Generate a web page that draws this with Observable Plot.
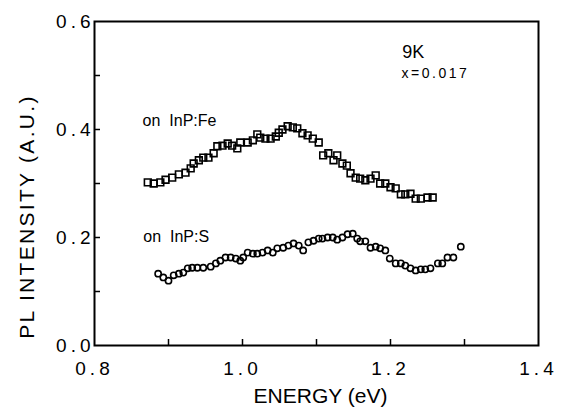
<!DOCTYPE html>
<html>
<head>
<meta charset="utf-8">
<script src="https://cdn.jsdelivr.net/npm/d3@7"></script>
<script src="https://cdn.jsdelivr.net/npm/@observablehq/plot@0.6"></script>
<style>
  body { margin: 0; background: #fff; overflow: hidden; }
  #chart g[aria-label="x-axis tick label"] text,
  #chart g[aria-label="y-axis tick label"] text { letter-spacing: 4px; }
  #chart .ytitle text { letter-spacing: 2.3px; }
  #chart .xnote text { letter-spacing: 2.5px; }
</style>
</head>
<body>
<div id="chart"></div>
<script>
// InP:Fe substrate (squares)
const energyFe = [0.872,0.880,0.889,0.896,0.905,0.914,0.923,0.930,0.934,0.941,0.947,0.954,0.961,0.966,0.973,0.980,0.986,0.993,0.997,1.007,1.014,1.020,1.024,1.031,1.038,1.045,1.049,1.054,1.061,1.068,1.074,1.081,1.088,1.095,1.103,1.109,1.116,1.123,1.128,1.135,1.141,1.146,1.153,1.159,1.166,1.173,1.180,1.186,1.193,1.200,1.207,1.214,1.220,1.227,1.234,1.241,1.250,1.257];
const intensityFe = [0.302,0.300,0.302,0.307,0.311,0.317,0.320,0.328,0.337,0.343,0.348,0.348,0.356,0.369,0.370,0.374,0.370,0.365,0.376,0.376,0.380,0.391,0.385,0.383,0.383,0.387,0.394,0.400,0.406,0.404,0.402,0.393,0.389,0.383,0.376,0.352,0.356,0.343,0.352,0.337,0.333,0.319,0.311,0.309,0.306,0.309,0.315,0.300,0.300,0.293,0.291,0.280,0.280,0.281,0.272,0.272,0.274,0.274];
// InP:S substrate (circles)
const energyS = [0.886,0.893,0.900,0.907,0.914,0.920,0.926,0.932,0.939,0.947,0.957,0.964,0.970,0.977,0.984,0.991,0.997,1.001,1.007,1.014,1.020,1.027,1.034,1.041,1.047,1.055,1.062,1.069,1.076,1.082,1.089,1.096,1.103,1.108,1.115,1.122,1.128,1.135,1.142,1.149,1.155,1.159,1.166,1.173,1.180,1.186,1.193,1.199,1.207,1.214,1.220,1.227,1.234,1.241,1.247,1.254,1.264,1.270,1.277,1.285,1.295];
const intensityS = [0.133,0.126,0.120,0.130,0.133,0.135,0.143,0.144,0.144,0.144,0.146,0.152,0.157,0.163,0.163,0.161,0.157,0.163,0.172,0.170,0.170,0.172,0.176,0.172,0.180,0.181,0.185,0.189,0.185,0.176,0.191,0.194,0.198,0.198,0.200,0.200,0.196,0.200,0.206,0.207,0.198,0.193,0.193,0.181,0.183,0.180,0.176,0.161,0.152,0.152,0.148,0.143,0.139,0.141,0.141,0.143,0.152,0.152,0.163,0.163,0.183];

const xTicks = [0.9, 1.0, 1.1, 1.2, 1.3];
const xTickLabels = [0.8, 1.0, 1.2, 1.4];
const yTicks = [0.1, 0.2, 0.3, 0.4, 0.5];
const yTickLabels = [0.0, 0.2, 0.4, 0.6];

const xTitle = "ENERGY (eV)";
const yTitle = "PL INTENSITY (A.U.)";

// annotation texts and their anchor positions (data units)
const seriesLabels = ["on  InP:Fe", "on  InP:S"];
const seriesLabelX = [0.865, 0.866];
const seriesLabelY = [0.407, 0.191];
const condLabels = ["9K"];
const condLabelX = [1.216];
const condLabelY = [0.533];
const compLabels = ["x=0.017"];
const compLabelX = [1.215];
const compLabelY = [0.496];

const fe = energyFe.map((e, i) => ({e, v: intensityFe[i]}));
const s = energyS.map((e, i) => ({e, v: intensityS[i]}));
const sl = seriesLabels.map((t, i) => ({t, x: seriesLabelX[i], y: seriesLabelY[i]}));
const cl = condLabels.map((t, i) => ({t, x: condLabelX[i], y: condLabelY[i]}));
const ml = compLabels.map((t, i) => ({t, x: compLabelX[i], y: compLabelY[i]}));

const font = "'Liberation Sans', Arial, Helvetica, sans-serif";

const chart = Plot.plot({
  width: 561,
  height: 410,
  marginLeft: 94,
  marginRight: 23,
  marginTop: 21,
  marginBottom: 65,
  style: {fontFamily: font, color: "black", background: "white"},
  x: {domain: [0.8, 1.4]},
  y: {domain: [0, 0.6]},
  marks: [
    Plot.axisX(xTicks, {tickSize: -6, tickFormat: () => "", strokeWidth: 1.5, label: null}),
    Plot.axisY(yTicks, {tickSize: -6, tickFormat: () => "", strokeWidth: 1.5, label: null}),
    Plot.axisX(xTickLabels, {tickSize: 0, tickPadding: 16, tickFormat: d3.format(".1f"), fontSize: 19, label: null}),
    Plot.axisY(yTickLabels, {tickSize: 0, tickPadding: 0, tickFormat: d3.format(".1f"), fontSize: 19, label: null}),
    Plot.frame({stroke: "black", strokeWidth: 2}),
    Plot.dot(fe, {x: "e", y: "v", symbol: "square", r: 3.8, stroke: "black", strokeWidth: 1.6, fill: "none"}),
    Plot.dot(s, {x: "e", y: "v", symbol: "circle", r: 3.1, stroke: "black", strokeWidth: 1.6, fill: "none"}),
    Plot.text(sl, {x: "x", y: "y", text: "t", textAnchor: "start", lineAnchor: "bottom", fontSize: 16, fill: "black"}),
    Plot.text(cl, {x: "x", y: "y", text: "t", textAnchor: "start", lineAnchor: "bottom", fontSize: 18, fill: "black"}),
    Plot.text(ml, {x: "x", y: "y", text: "t", textAnchor: "start", lineAnchor: "bottom", fontSize: 14, fill: "black", className: "xnote"}),
    Plot.text([xTitle], {frameAnchor: "bottom", textAnchor: "middle", lineAnchor: "bottom", dy: 57, dx: 4, fontSize: 21, fill: "black"}),
    Plot.text([yTitle], {frameAnchor: "left", rotate: -90, textAnchor: "middle", lineAnchor: "middle", dx: -67, dy: 33, fontSize: 21, fill: "black", className: "ytitle"})
  ]
});
document.getElementById("chart").appendChild(chart);
</script>
</body>
</html>
